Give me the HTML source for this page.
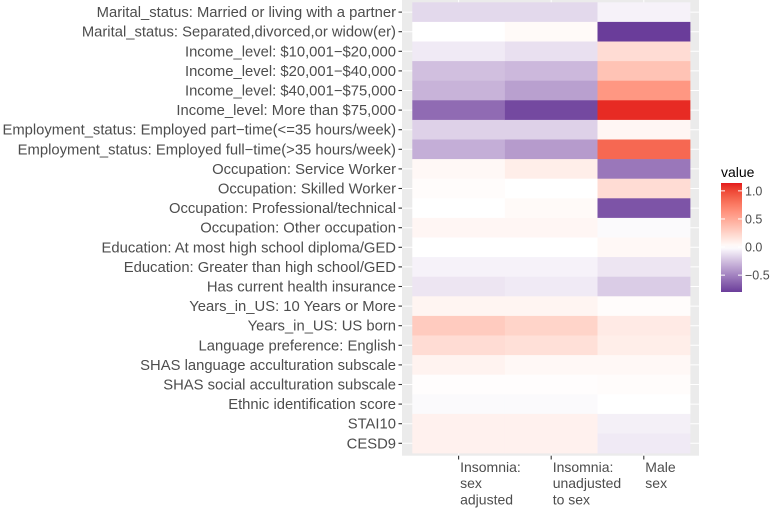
<!DOCTYPE html>
<html><head><meta charset="utf-8"><style>
html,body{margin:0;padding:0;background:#fff;}
svg{display:block;font-family:"Liberation Sans",Arial,sans-serif;}
</style></head><body>
<svg id="chart" width="777" height="508" viewBox="0 0 777 508" xmlns="http://www.w3.org/2000/svg">
<rect x="402" y="0" width="297" height="455.7" fill="#ebebeb"/>
<g id="grid"></g><g id="tiles"></g><g id="yaxis"></g><g id="xaxis"></g>
<g>
<text x="721" y="177" font-size="14" fill="#000">value</text>
<defs><linearGradient id="lg" x1="0" y1="0" x2="0" y2="1"></linearGradient></defs>
<rect x="721" y="183" width="21" height="109" fill="url(#lg)"/>
<g id="legticks"></g>
</g>
</svg>
<script>
const rows=["Marital_status: Married or living with a partner","Marital_status: Separated,divorced,or widow(er)","Income_level: $10,001\u2212$20,000","Income_level: $20,001\u2212$40,000","Income_level: $40,001\u2212$75,000","Income_level: More than $75,000","Employment_status: Employed part\u2212time(<=35 hours/week)","Employment_status: Employed full\u2212time(>35 hours/week)","Occupation: Service Worker","Occupation: Skilled Worker","Occupation: Professional/technical","Occupation: Other occupation","Education: At most high school diploma/GED","Education: Greater than high school/GED","Has current health insurance","Years_in_US: 10 Years or More","Years_in_US: US born","Language preference: English","SHAS language acculturation subscale","SHAS social acculturation subscale","Ethnic identification score","STAI10","CESD9"];
const cols=[["Insomnia:","sex","adjusted"],["Insomnia:","unadjusted","to sex"],["Male","sex"]];
const sexAdjusted=[-0.15,0.0,-0.08,-0.25,-0.3,-0.6,-0.18,-0.32,0.04,0.02,0.0,0.05,0.0,-0.05,-0.1,0.06,0.3,0.2,0.07,0.01,-0.02,0.08,0.08];
const unadjusted=[-0.15,0.03,-0.12,-0.28,-0.38,-0.75,-0.18,-0.4,0.1,0.0,0.03,0.05,0.0,-0.05,-0.08,0.06,0.25,0.18,0.04,0.01,-0.02,0.08,0.08];
const maleSex=[-0.05,-0.8,0.2,0.35,0.6,1.1,0.05,0.85,-0.55,0.2,-0.7,-0.02,0.04,-0.1,-0.2,0.02,0.12,0.1,0.04,0.02,0.0,-0.06,-0.08];
const legendTicks=[1.0,0.5,0.0,-0.5];
const series=[sexAdjusted,unadjusted,maleSex];
const NS="http://www.w3.org/2000/svg";
const x0=412.3,cw=92.6,y0=2.3,rh=19.6;
const vmax=1.14,vmin=-0.8;
function xCol(i){return x0+i*cw;}
function yRow(i){return y0+i*rh;}
function legY(v){return 183+(vmax-v)/(vmax-vmin)*109;}
function s2l(c){c/=255;return c<=0.04045?c/12.92:Math.pow((c+0.055)/1.055,2.4);}
function l2s(c){c=c<=0.0031308?12.92*c:1.055*Math.pow(c,1/2.4)-0.055;return Math.max(0,Math.min(255,Math.round(c*255)));}
function toLab(rgb){const [r,g,b]=rgb.map(s2l);
 let X=(0.4124*r+0.3576*g+0.1805*b)/0.95047,Y=0.2126*r+0.7152*g+0.0722*b,Z=(0.0193*r+0.1192*g+0.9505*b)/1.08883;
 const f=t=>t>0.008856?Math.cbrt(t):7.787*t+16/116;X=f(X);Y=f(Y);Z=f(Z);
 return [116*Y-16,500*(X-Y),200*(Y-Z)];}
function fromLab(l){const fy=(l[0]+16)/116,fx=fy+l[1]/500,fz=fy-l[2]/200;
 const fi=t=>t*t*t>0.008856?t*t*t:(t-16/116)/7.787;
 const X=fi(fx)*0.95047,Y=fi(fy),Z=fi(fz)*1.08883;
 const r=3.2406*X-1.5372*Y-0.4986*Z,g=-0.9689*X+1.8758*Y+0.0415*Z,b=0.0557*X-0.2040*Y+1.0570*Z;
 return [l2s(r),l2s(g),l2s(b)];}
const W=toLab([255,255,255]),R=toLab([228,26,28]),P=toLab([106,61,154]);
function mixLab(a,b,t){return fromLab(a.map((c,i)=>c+(b[i]-c)*t));}
function color(v){let c;
 if(v>=0)c=mixLab(W,R,Math.min(1,v/vmax));else c=mixLab(W,P,Math.min(1,v/vmin));
 return `rgb(${c[0]},${c[1]},${c[2]})`;}
function mk(t,a,p){const e=document.createElementNS(NS,t);for(const k in a)e.setAttribute(k,a[k]);p.appendChild(e);return e;}
const grid=document.getElementById('grid'),tiles=document.getElementById('tiles'),ya=document.getElementById('yaxis'),xa=document.getElementById('xaxis');
rows.forEach((r,i)=>{const yc=yRow(i)+rh/2;
 const gl=mk('line',{x1:402,x2:699,y1:yc,y2:yc,stroke:'#fff','stroke-width':1},grid);
 
 
 const tk=mk('line',{x1:398.5,x2:402,y1:yc,y2:yc,stroke:'#333','stroke-width':1.1},ya);
 
 
 const t=mk('text',{x:396,y:yc+5,'text-anchor':'end','font-size':14.8,fill:'#4d4d4d'},ya);
 t.textContent=r;
 
 
});
cols.forEach((c,j)=>{const xc=xCol(j)+cw/2;
 const gl=mk('line',{x1:xc,x2:xc,y1:0,y2:455.7,stroke:'#fff','stroke-width':1},grid);
 
 
 const tk=mk('line',{x1:xc,x2:xc,y1:455.7,y2:459.5,stroke:'#333','stroke-width':1.1},xa);
 
 
 const t=mk('text',{x:xc+1.5,y:472,'font-size':14,fill:'#4d4d4d'},xa);
 
 
 c.forEach((l,k)=>{const s=mk('tspan',{x:xc+1.5,y:472+k*16.2},t);s.textContent=l;});
 series[j].forEach((v,i)=>{
  const r=mk('rect',{x:xCol(j),y:yRow(i),width:cw+0.3,height:rh+0.3,fill:color(v)},tiles);
  
  
 });
});
const lg=document.getElementById('lg');
for(let k=0;k<=30;k++){const v=vmax-(vmax-vmin)*k/30;mk('stop',{offset:(k/30),'stop-color':color(v)},lg);}
const lt=document.getElementById('legticks');
legendTicks.forEach(v=>{const y=legY(v);
 mk('line',{x1:721,x2:725,y1:y,y2:y,stroke:'#fff','stroke-width':1},lt);
 mk('line',{x1:738,x2:742,y1:y,y2:y,stroke:'#fff','stroke-width':1},lt);
 const t=mk('text',{x:745,y:y+4.5,'font-size':12.5,fill:'#4d4d4d'},lt);
 t.textContent=v<0?'\u2212'+Math.abs(v).toFixed(1):v.toFixed(1);
 
 
});
</script>
</body></html>
